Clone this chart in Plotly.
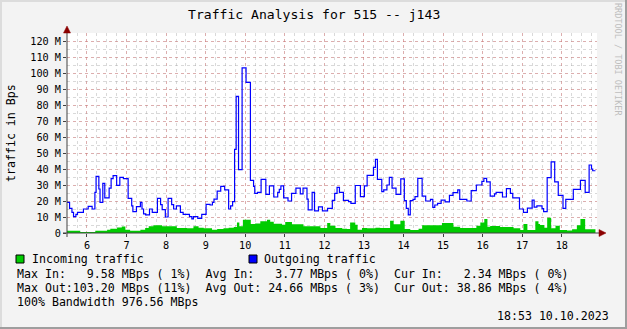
import plotly.graph_objects as go

# ---------------- data (hours of day, values in M Bps) ----------------
out_t = [5.495, 5.56, 5.62, 5.66, 5.72, 5.76, 5.91, 6.03, 6.13, 6.20, 6.23, 6.30, 6.33, 6.40, 6.45,
         6.56, 6.61, 6.66, 6.75, 6.83, 6.92, 7.04, 7.13, 7.16, 7.25, 7.35, 7.39, 7.43, 7.48, 7.58,
         7.65, 7.78, 7.86, 7.90, 7.98, 8.05, 8.14, 8.19, 8.26, 8.36, 8.43, 8.59, 8.65, 8.69, 8.80,
         8.90, 9.01, 9.11, 9.17, 9.21, 9.29, 9.38, 9.48, 9.58, 9.63, 9.68, 9.73, 9.77, 9.83, 9.92,
         10.02, 10.13, 10.21, 10.24, 10.31, 10.40, 10.52, 10.61, 10.72, 10.82, 10.86, 10.90, 10.97,
         11.08, 11.17, 11.28, 11.39, 11.46, 11.56, 11.59, 11.69, 11.75, 11.85, 11.95, 12.08, 12.20,
         12.26, 12.32, 12.38, 12.48, 12.61, 12.67, 12.78, 12.91, 13.01, 13.08, 13.24, 13.29, 13.34,
         13.45, 13.50, 13.58, 13.64, 13.71, 13.81, 13.93, 14.02, 14.07, 14.12, 14.17, 14.24, 14.29,
         14.36, 14.47, 14.56, 14.68, 14.74, 14.79, 14.86, 14.95, 15.05, 15.16, 15.25, 15.37, 15.42,
         15.60, 15.71, 15.84, 15.98, 16.03, 16.10, 16.19, 16.30, 16.34, 16.50, 16.60, 16.70, 16.76,
         16.93, 17.03, 17.13, 17.25, 17.30, 17.37, 17.50, 17.54, 17.63, 17.73, 17.82, 17.91, 18.03,
         18.10, 18.29, 18.47, 18.59, 18.69, 18.75, 18.78, 18.85]
out_v = [19.2, 15.4, 12.9, 10.2, 11.7, 12.9, 15.0, 16.7, 15.0, 25.4, 35.4, 27.5, 19.2, 31.0, 21.9,
         28.0, 34.0, 35.8, 29.8, 34.8, 34.0, 21.7, 17.0, 13.3, 16.5, 19.2, 15.0, 12.0, 11.3, 15.0,
         12.9, 21.7, 17.7, 14.6, 10.0, 21.7, 17.7, 15.0, 17.0, 12.9, 11.7, 10.2, 8.8, 10.2, 9.2,
         11.7, 17.9, 17.5, 19.2, 21.2, 26.2, 29.2, 27.0, 15.0, 17.0, 19.6, 52.3, 85.4, 39.6, 103.2,
         94.2, 32.9, 29.2, 24.8, 25.4, 33.5, 24.2, 29.5, 22.5, 25.4, 27.3, 29.5, 22.0,
         20.0, 24.8, 28.0, 24.4, 28.0, 21.2, 14.4, 25.4, 13.8, 16.3, 13.8, 15.4, 20.4,
         24.8, 28.5, 25.4, 20.4, 19.6, 18.5, 29.7, 22.7, 29.5, 36.0, 41.0, 46.0, 33.5,
         25.8, 26.9, 30.0, 34.8, 28.0, 24.2, 33.8, 20.2, 15.4, 11.3, 20.2, 21.0, 22.7,
         34.2, 23.1, 20.0, 21.0, 16.0, 17.5, 18.5, 20.6, 19.4, 23.5, 25.2, 26.9, 21.0,
         20.0, 26.5, 30.0, 32.3, 34.2, 32.0, 23.1, 24.4, 25.4, 22.5, 27.7, 24.8, 21.9,
         15.0, 12.9, 15.6, 20.6, 16.2, 16.9, 15.2, 13.3, 34.6, 44.4, 32.0, 23.5, 15.4,
         21.0, 27.3, 32.9, 25.4, 42.5, 40.0, 38.9, 38.9]

in_t = [5.495, 5.83, 6.21, 6.51, 6.59, 6.76, 6.88, 6.97, 7.09, 7.35, 7.47, 7.56, 7.68, 7.90, 8.27,
        8.53, 8.69, 8.82, 8.95, 9.16, 9.29, 9.45, 9.58, 9.71, 9.79, 9.85, 9.94, 10.14, 10.25, 10.38,
        10.55, 10.63, 10.72, 10.93, 11.01, 11.18, 11.47, 11.90, 12.07, 12.15, 12.28, 12.45, 12.57,
        12.65, 12.78, 12.84, 12.95, 13.08, 13.29, 13.41, 13.66, 13.75, 13.92, 14.03, 14.17, 14.38,
        14.47, 14.97, 15.26, 15.43, 15.84, 15.94, 16.04, 16.12, 16.19, 16.44, 16.78, 16.95, 17.03,
        17.13, 17.33, 17.41, 17.45, 17.56, 17.63, 17.73, 17.84, 17.95, 18.13, 18.26, 18.38, 18.47,
        18.59, 18.85]
in_v = [1.4, 0.6, 1.4, 2.1, 2.7, 3.5, 4.0, 2.1, 1.4, 2.1, 3.1, 4.2, 4.8, 4.2, 3.1,
        2.9, 4.2, 3.3, 2.9, 2.1, 2.5, 2.9, 3.3, 3.75, 6.5, 4.2, 8.3, 5.6, 6.0, 7.3,
        8.3, 7.1, 5.8, 5.2, 6.9, 5.4, 4.2, 3.1, 6.25, 4.6, 3.1, 2.7, 2.5,
        6.5, 5.2, 2.1, 3.1, 2.9, 3.3, 3.1, 7.7, 5.4, 7.7, 2.5, 1.9, 2.7,
        4.8, 6.25, 3.9, 3.1, 4.6, 6.5, 8.75, 3.9, 4.4, 3.75, 2.9, 1.9, 5.6,
        1.9, 7.3, 5.6, 5.0, 3.3, 9.58, 2.9, 4.6, 1.9, 1.5, 2.3, 4.8, 8.75,
        2.34, 2.34]

y_ticks = [0, 10, 20, 30, 40, 50, 60, 70, 80, 90, 100, 110, 120]
y_labels = ["0"] + [f"{v} M" for v in y_ticks[1:]]
x_ticks = [6, 7, 8, 9, 10, 11, 12, 13, 14, 15, 16, 17, 18]
x_labels = [str(v) for v in x_ticks]

title_text = "Traffic Analysis for 515 -- j143"
legend_rows = [
    "Max In:   9.58 MBps ( 1%)  Avg In:   3.77 MBps ( 0%)  Cur In:   2.34 MBps ( 0%)",
    "Max Out:103.20 MBps (11%)  Avg Out: 24.66 MBps ( 3%)  Cur Out: 38.86 MBps ( 4%)",
    "100% Bandwidth 976.56 MBps",
]
stamp = "18:53 10.10.2023"

# ---------------- layout geometry ----------------
W, H = 627, 329
L, R, T, B = 67, 30, 33, 96
PW, PH = W - L - R, H - T - B
X0 = 5.495
X1 = X0 + PW / 39.57


def px(x):
    return (x - L) / PW


def py(y):
    return (H - B - y) / PH


FONT = "DejaVu Sans Mono"
GREEN = "#00CC00"
BLUE = "#0000FF"


def nb(s):
    return s.replace(" ", "\u00a0")


fig = go.Figure()
fig.add_trace(go.Scatter(x=in_t, y=in_v, mode="lines", line_shape="hv",
                         line=dict(width=0, color=GREEN), fill="tozeroy",
                         fillcolor=GREEN, hoverinfo="skip"))
fig.add_trace(go.Scatter(x=out_t, y=out_v, mode="lines", line_shape="hv",
                         line=dict(width=1.2, color=BLUE), hoverinfo="skip"))

shapes = []
# frame
shapes.append(dict(type="rect", xref="paper", yref="paper", x0=px(0), x1=px(W), y0=py(H), y1=py(H - 2),
                   fillcolor="#9E9E9E", line_width=0, layer="above"))
shapes.append(dict(type="rect", xref="paper", yref="paper", x0=px(W - 2), x1=px(W), y0=py(H), y1=py(0),
                   fillcolor="#9E9E9E", line_width=0, layer="above"))
shapes.append(dict(type="rect", xref="paper", yref="paper", x0=px(0), x1=px(W - 2), y0=py(2), y1=py(0),
                   fillcolor="#DCDCDC", line_width=0, layer="above"))
shapes.append(dict(type="rect", xref="paper", yref="paper", x0=px(0), x1=px(2), y0=py(H - 2), y1=py(0),
                   fillcolor="#DCDCDC", line_width=0, layer="above"))
# axes
AX = "#404040"
shapes.append(dict(type="line", xref="paper", yref="paper", x0=px(63), x1=px(600), y0=0, y1=0,
                   line=dict(color=AX, width=1), layer="above"))
shapes.append(dict(type="line", xref="paper", yref="paper", x0=0, x1=0, y0=py(237), y1=py(30),
                   line=dict(color=AX, width=1), layer="above"))
ARW = "#8B0000"
shapes.append(dict(type="path", xref="paper", yref="paper",
                   path=f"M {px(599)},{py(229.5)} L {px(606)},{py(233)} L {px(599)},{py(236.5)} Z",
                   fillcolor=ARW, line=dict(color=ARW, width=0.5), layer="above"))
shapes.append(dict(type="path", xref="paper", yref="paper",
                   path=f"M {px(63.5)},{py(33)} L {px(67)},{py(26)} L {px(70.5)},{py(33)} Z",
                   fillcolor=ARW, line=dict(color=ARW, width=0.5), layer="above"))
# legend squares
shapes.append(dict(type="rect", xref="paper", yref="paper", x0=px(16), x1=px(24), y0=py(263), y1=py(255),
                   fillcolor=GREEN, line=dict(color="#000000", width=1), layer="above"))
shapes.append(dict(type="rect", xref="paper", yref="paper", x0=px(249), x1=px(257), y0=py(263), y1=py(255),
                   fillcolor=BLUE, line=dict(color="#000000", width=1), layer="above"))

ann = []
ann.append(dict(text=nb(title_text), x=px(313.5), y=py(15), xref="paper", yref="paper",
                showarrow=False, font=dict(family=FONT, size=13.1, color="#000000"),
                xanchor="center", yanchor="middle"))
ann.append(dict(text=nb("traffic in Bps"), x=px(11), y=py(133), xref="paper", yref="paper",
                showarrow=False, textangle=-90, font=dict(family=FONT, size=11.6, color="#000000"),
                xanchor="center", yanchor="middle"))
ann.append(dict(text=nb("RRDTOOL / TOBI OETIKER"), x=px(618), y=py(59), xref="paper", yref="paper",
                showarrow=False, textangle=90, font=dict(family=FONT, size=8.5, color="#BEBEBE"),
                xanchor="center", yanchor="middle"))
ann.append(dict(text=nb("Incoming traffic"), x=px(30), y=py(259), xref="paper", yref="paper",
                showarrow=False, font=dict(family=FONT, size=11.6, color="#000000"),
                xanchor="left", yanchor="middle"))
ann.append(dict(text=nb("Outgoing traffic"), x=px(262), y=py(259), xref="paper", yref="paper",
                showarrow=False, font=dict(family=FONT, size=11.6, color="#000000"),
                xanchor="left", yanchor="middle"))
for i, row in enumerate(legend_rows):
    ann.append(dict(text=nb(row), x=px(15), y=py(273.5 + 14.2 * i), xref="paper", yref="paper",
                    showarrow=False, font=dict(family=FONT, size=11.6, color="#000000"),
                    xanchor="left", yanchor="middle"))
ann.append(dict(text=nb(stamp), x=px(611), y=py(316), xref="paper", yref="paper",
                showarrow=False, font=dict(family=FONT, size=11.6, color="#000000"),
                xanchor="right", yanchor="middle"))

MAJ = "rgba(225,110,110,0.40)"
MIN = "rgba(160,160,160,0.40)"

fig.update_layout(
    width=W, height=H,
    margin=dict(l=L, r=R, t=T, b=B, pad=0),
    paper_bgcolor="#F3F3F3", plot_bgcolor="#FFFFFF",
    showlegend=False,
    shapes=shapes, annotations=ann,
    xaxis=dict(range=[X0, X1], tickvals=x_ticks, ticktext=x_labels,
               showgrid=True, gridcolor=MAJ, griddash="dot", gridwidth=1,
               minor=dict(dtick=0.25, tick0=6, showgrid=True, gridcolor=MIN, griddash="dot", gridwidth=1),
               ticks="outside", ticklen=3, tickcolor=AX,
               tickfont=dict(family=FONT, size=10.2, color="#000000"),
               showline=False, zeroline=False, fixedrange=True),
    yaxis=dict(range=[0, 125], tickvals=y_ticks, ticktext=y_labels,
               showgrid=True, gridcolor=MAJ, griddash="dot", gridwidth=1,
               minor=dict(dtick=5, tick0=0, showgrid=True, gridcolor=MIN, griddash="dot", gridwidth=1),
               ticks="outside", ticklen=3, tickcolor=AX,
               tickfont=dict(family=FONT, size=10.2, color="#000000"),
               showline=False, zeroline=False, fixedrange=True),
)

fig.write_html("out.html")
